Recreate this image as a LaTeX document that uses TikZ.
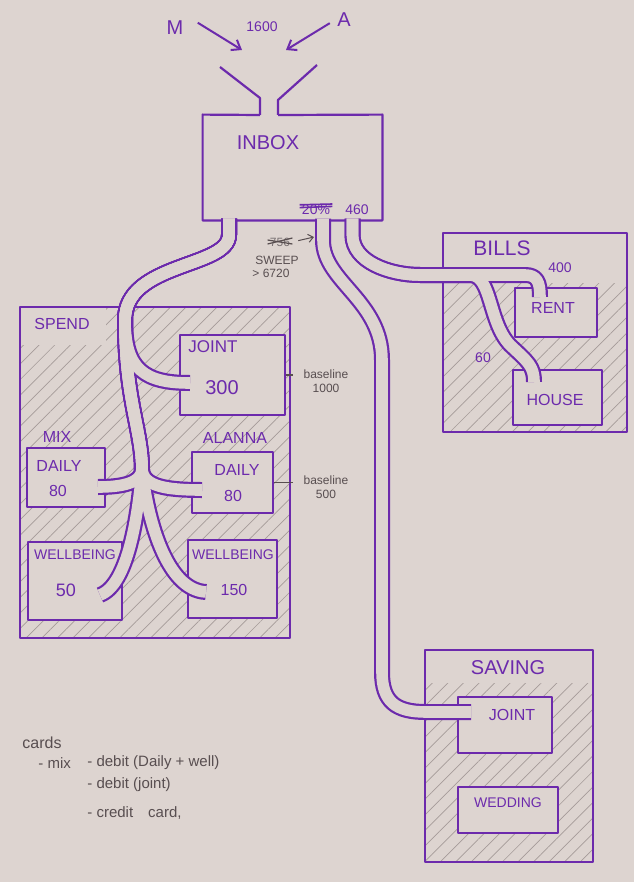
\documentclass[tikz,border=0pt]{standalone}
\usepackage{fontspec}
\setmainfont{Liberation Sans}
\usetikzlibrary{arrows.meta,fit,patterns.meta}

\definecolor{paper}{RGB}{221,212,208}
\definecolor{ink}{RGB}{108,42,172}
\definecolor{pencil}{RGB}{88,78,80}
\definecolor{hatchgray}{RGB}{165,155,153}

\tikzset{
  frame/.style={draw=ink, line width=1.1pt, line join=round, inner sep=0pt},
  box/.style={frame, fill=paper},
  hatch/.style={pattern={Lines[angle=45,distance=5.5pt,line width=0.35pt]}, pattern color=hatchgray},
  lbl/.style={text=ink, font=\fontsize{8}{9}\selectfont, inner sep=1pt},
  biglbl/.style={lbl, font=\fontsize{10}{12}\selectfont},
  smalllbl/.style={lbl, font=\fontsize{7}{8}\selectfont},
  note/.style={text=pencil, font=\fontsize{6}{7}\selectfont, align=center, inner sep=1pt},
  pipewall/.style={draw=ink, line width=8pt, line join=round},
  pipehole/.style={draw=paper, line width=5.8pt, line join=round},
  arr/.style={draw=ink, line width=1pt, -{Straight Barb[length=4pt,width=6pt]}},
}

\def\spendtrunk{(229,218.5) -- (229,235) .. controls (229,268) and (125,262) .. (125,320)}
\def\spendfork{\spendtrunk .. controls (125,400) and (142,430) .. (142,470)}
\def\billstrunk{(352.5,218.5) -- (352.5,235) .. controls (352.5,262) and (390,275) .. (420,275) -- (470,275)}

\begin{document}
\begin{tikzpicture}[x=0.5pt,y=-0.5pt]
\useasboundingbox (0,0) rectangle (634,882);
\fill[paper] (0,0) rectangle (634,882);

% incomes
\node[biglbl] (m) at (175,28) {M};
\node[smalllbl] (income) at (262,27) {1600};
\node[biglbl] (a) at (344,20) {A};
\coordinate (mtip) at (242,50);
\coordinate (atip) at (286,50);
\draw[arr] ([xshift=6pt,yshift=-2pt]m.north east) -- (mtip);
\draw[arr, shorten <=3pt] (a.west) -- (atip);

% inbox with funnel
\node[fit={(203,115) (382,220)}, inner sep=0pt] (inbox) {};
\draw[frame] (260,115) -- (inbox.north west) -- (inbox.south west) -- (inbox.south east) -- (inbox.north east) -- (278,115);
\draw[frame] (260,115) -- (260,98) -- (220,67);
\draw[frame] (278,115) -- (278,100) -- (317,65);
\node[biglbl] (inboxlbl) at (268,143) {INBOX};
\node[smalllbl] (pct) at (316,210) {20\%};
\draw[ink, line width=0.8pt] ([yshift=1.2pt]pct.west) -- ([yshift=1.8pt]pct.east);
\draw[ink, line width=0.8pt] ([yshift=2.6pt]pct.west) -- ([yshift=3pt]pct.east);
\node[smalllbl] (sweepamt) at (357,210) {460};

% sweep note
\node[note, text=pencil!80] (oldsweep) at (280,242) {756};
\draw[pencil, line width=0.6pt] ([yshift=-1pt]oldsweep.west) -- ([yshift=2pt]oldsweep.east);
\draw[pencil, line width=0.6pt] ([yshift=1pt]oldsweep.west) -- ([yshift=-1pt]oldsweep.east);
\node[note] (sweep) at (277,260) {SWEEP};
\node[note] (sweepmin) at (271,273) {> 6720};
\coordinate (sweeptip) at (314,237);
\draw[pencil, line width=0.5pt, shorten <=3pt, -{Straight Barb[length=2.5pt,width=4pt]}] (oldsweep.east) -- (sweeptip);

% containers
\fill[hatch] (20,307) rectangle (290,638);
\fill[paper] (20,307) rectangle (106,345);
\node[frame, fit={(20,307) (290,638)}] (spend) {};
\fill[hatch] (443,283) rectangle (627,432);
\node[frame, fit={(443,233) (627,432)}] (bills) {};
\fill[hatch] (425,683) rectangle (593,862);
\node[frame, fit={(425,650) (593,862)}] (saving) {};

% pots
\node[box, fit={(180,335) (285,415)}] (sjoint) {};
\node[box, fit={(27,448) (105,507)}] (mixdaily) {};
\node[box, fit={(192,452) (273,513)}] (aldaily) {};
\node[box, fit={(28,542) (122,620)}] (mixwell) {};
\node[box, fit={(188,540) (277,618)}] (alwell) {};
\node[box, fit={(515,288) (597,337)}] (rent) {};
\node[box, fit={(513,370) (602,425)}] (house) {};
\node[box, fit={(458,697) (552,753)}] (vjoint) {};
\node[box, fit={(458,787) (558,833)}] (wedding) {};

% pipes: walls first, then the hollow
\foreach \pass in {pipewall,pipehole}{
  \draw[\pass] \spendtrunk .. controls (125,370) and (145,383) .. (190,383);
  \draw[\pass] \spendfork .. controls (141,483) and (122,487) .. (98,487);
  \draw[\pass] \spendfork .. controls (144,486) and (165,490) .. (202,490);
  \draw[\pass] \spendfork .. controls (138,515) and (128,585) .. (100,595);
  \draw[\pass] \spendfork .. controls (147,515) and (165,590) .. (206,592);
  \draw[\pass] \billstrunk -- (525,275) .. controls (537,275) and (540,282) .. (540,297);
  \draw[\pass] \billstrunk .. controls (492,275) and (488,322) .. (510,345) .. controls (528,362) and (534,366) .. (534,382);
  \draw[\pass] (323,218.5) -- (323,240) .. controls (323,282) and (382,300) .. (382,360) -- (382,672) .. controls (382,702) and (396,712) .. (426,712) -- (471,712);
}

% labels
\node[lbl] (spendlbl) at (62,324) {SPEND};
\node[lbl, font=\fontsize{10.5}{12}\selectfont] (billslbl) at (502,248) {BILLS};
\node[biglbl] (savinglbl) at (508,668) {SAVING};

\node[lbl, font=\fontsize{8.5}{10}\selectfont] (sjointlbl) at (213,347) {JOINT};
\node[biglbl] (sjointamt) at (222,388) {300};
\node[lbl] (mixlbl) at (57,437) {MIX};
\node[lbl] (mixdailylbl) at (59,466) {DAILY};
\node[lbl] (mixdailyamt) at (58,491) {80};
\node[lbl] (alannalbl) at (235,438) {ALANNA};
\node[lbl] (aldailylbl) at (237,470) {DAILY};
\node[lbl] (aldailyamt) at (233,496) {80};
\node[smalllbl] (mixwelllbl) at (75,555) {WELLBEING};
\node[lbl, font=\fontsize{9}{10}\selectfont] (mixwellamt) at (66,590) {50};
\node[smalllbl] (alwelllbl) at (233,555) {WELLBEING};
\node[lbl] (alwellamt) at (234,590) {150};

\node[lbl] (rentlbl) at (553,308) {RENT};
\node[smalllbl] (rentamt) at (560,268) {400};
\node[lbl] (houselbl) at (555,400) {HOUSE};
\node[smalllbl] (houseamt) at (483,358) {60};
\node[lbl] (vjointlbl) at (512,715) {JOINT};
\node[smalllbl] (weddinglbl) at (508,803) {WEDDING};

% baselines
\node[note] (bl1) at (326,381) {baseline\\1000};
\node[note] (bl2) at (326,487) {baseline\\500};
\draw[pencil, line width=0.6pt, shorten >=4pt] (sjoint.east) -- (sjoint.east -| bl1.west);
\draw[pencil, line width=0.6pt, shorten >=4pt] (aldaily.east) -- (aldaily.east -| bl2.west);

% cards
\node[note, anchor=west, font=\fontsize{8}{9}\selectfont] (cards) at (20,743) {cards};
\node[note, anchor=west, font=\fontsize{7.5}{9}\selectfont] (cardmix) at (36,763) {- mix};
\node[note, anchor=west, font=\fontsize{7.5}{9}\selectfont] (card1) at (85,763) {- debit (Daily + well)};
\node[note, anchor=west, font=\fontsize{7.5}{9}\selectfont] (card2) at (85,785) {- debit (joint)};
\node[note, anchor=west, font=\fontsize{7.5}{9}\selectfont] (card3) at (85,813) {- credit\quad card,};
\end{tikzpicture}
\end{document}
